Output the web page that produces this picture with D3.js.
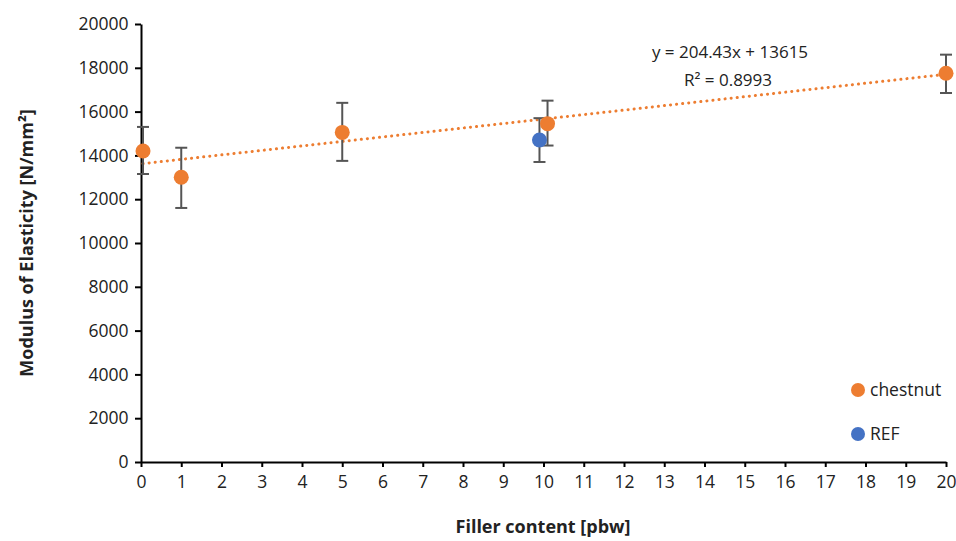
<!DOCTYPE html>
<html><head><meta charset="utf-8">
<script src="https://cdn.jsdelivr.net/npm/d3@7"></script>
<style>body{margin:0;background:#fff}text{font-family:"Open Sans",sans-serif}</style>
</head><body>
<svg id="c" width="956" height="541"></svg>
<script>
// chestnut series
const chestX = [0.05, 1, 5, 10.1, 20];
const chestY = [14200, 13000, 15050, 15450, 17750];
const chestLo = [13150, 11600, 13750, 14450, 16850];
const chestHi = [15300, 14350, 16400, 16500, 18600];
// reference
const refX = [9.9];
const refY = [14700];
const refLo = [13700];
const refHi = [15700];
const slope = 204.43, intercept = 13615;
const xTicks = d3.range(0, 21);
const yTicks = d3.range(0, 20001, 2000);

const svg = d3.select("#c");
const x = d3.scaleLinear().domain([0, 20]).range([141, 946]);
const y = d3.scaleLinear().domain([0, 20000]).range([462, 24]);

svg.append("g").attr("transform", "translate(0,462)")
  .call(d3.axisBottom(x).tickValues(xTicks).tickFormat(d3.format("d")).tickSize(5).tickSizeOuter(0))
  .call(g => g.selectAll("text").attr("font-size", 17.5).attr("fill", "#222").attr("dy", "1.05em"));
svg.append("g").attr("transform", "translate(141,0)")
  .call(d3.axisLeft(y).tickValues(yTicks).tickFormat(d3.format("d")).tickSize(6).tickSizeOuter(0))
  .call(g => g.selectAll("text").attr("font-size", 17.5).attr("fill", "#222").attr("dx", "-0.2em"));
svg.selectAll(".domain, .tick line").attr("stroke", "#000").attr("stroke-width", 2);

// trendline
svg.append("line")
  .attr("x1", x(0.05)).attr("y1", y(slope * 0.05 + intercept))
  .attr("x2", x(20)).attr("y2", y(slope * 20 + intercept))
  .attr("stroke", "#ed7d31").attr("stroke-width", 3)
  .attr("stroke-dasharray", "0.1 6").attr("stroke-linecap", "round");

function errs(xs, lo, hi) {
  const g = svg.append("g").attr("stroke", "#555").attr("stroke-width", 2);
  xs.forEach((v, i) => {
    g.append("line").attr("x1", x(v)).attr("x2", x(v)).attr("y1", y(lo[i])).attr("y2", y(hi[i]));
    [lo[i], hi[i]].forEach(e => g.append("line").attr("x1", x(v) - 6).attr("x2", x(v) + 6).attr("y1", y(e)).attr("y2", y(e)));
  });
}
errs(refX, refLo, refHi);
errs(chestX, chestLo, chestHi);
svg.selectAll(".ref").data(refX).join("circle").attr("class", "ref")
  .attr("cx", d => x(d)).attr("cy", (d, i) => y(refY[i])).attr("r", 7.5).attr("fill", "#4472c4");
svg.selectAll(".ch").data(chestX).join("circle").attr("class", "ch")
  .attr("cx", d => x(d)).attr("cy", (d, i) => y(chestY[i])).attr("r", 7.5).attr("fill", "#ed7d31");

svg.append("text").attr("x", 730).attr("y", 58).attr("text-anchor", "middle").attr("font-size", 17).attr("fill", "#222")
  .text("y = 204.43x + 13615");
svg.append("text").attr("x", 728).attr("y", 86).attr("text-anchor", "middle").attr("font-size", 17).attr("fill", "#222")
  .text("R² = 0.8993");

// legend
const leg = [["chestnut", "#ed7d31", 390], ["REF", "#4472c4", 434]];
leg.forEach(([t, c, yy]) => {
  svg.append("circle").attr("cx", 858).attr("cy", yy).attr("r", 7).attr("fill", c);
  svg.append("text").attr("x", 870).attr("y", yy + 6).attr("font-size", 17.5).attr("fill", "#222").text(t);
});

svg.append("text").attr("x", 543).attr("y", 533).attr("text-anchor", "middle")
  .attr("font-size", 18).attr("font-weight", "bold").attr("fill", "#222").text("Filler content [pbw]");
svg.append("text").attr("transform", "translate(33,243) rotate(-90)").attr("text-anchor", "middle")
  .attr("font-size", 18).attr("font-weight", "bold").attr("fill", "#222").text("Modulus of Elasticity [N/mm²]");
</script>
</body></html>
